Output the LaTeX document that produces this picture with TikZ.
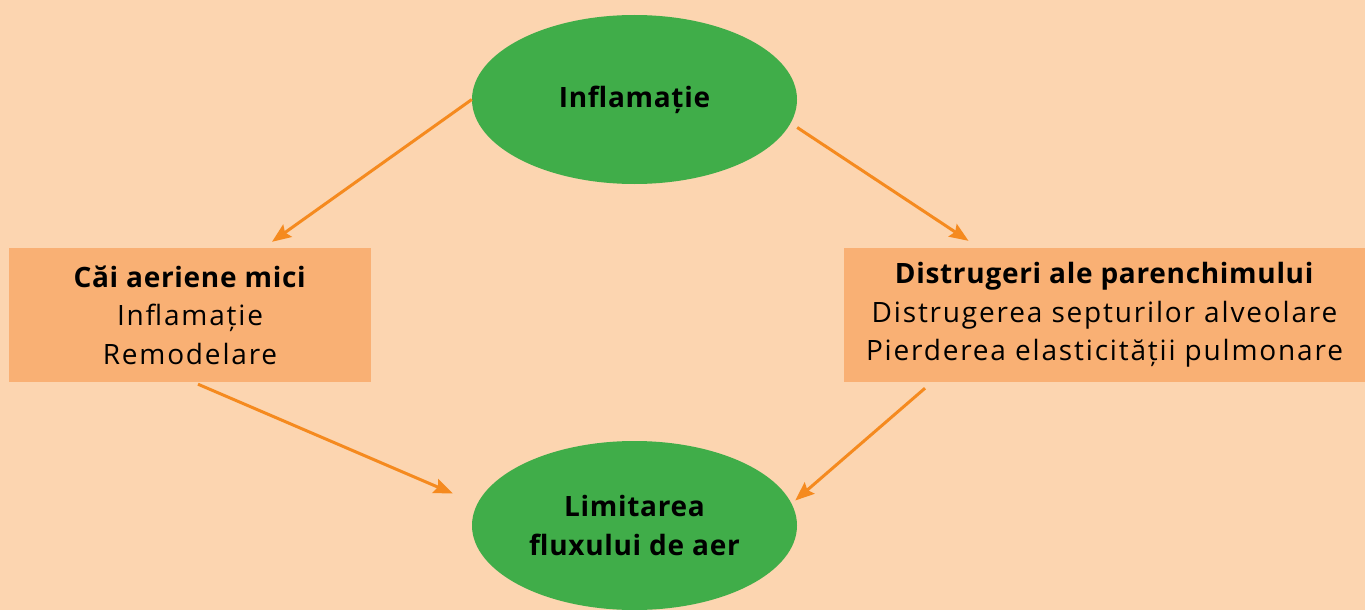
\documentclass[tikz,border=0pt]{standalone}
\usepackage{fontspec}
\setmainfont{Open Sans}[LetterSpace=6.5, BoldFeatures={LetterSpace=2.5}]
\usetikzlibrary{shapes.geometric,arrows.meta,calc}
\definecolor{bgpeach}{RGB}{252,213,176}
\definecolor{boxorange}{RGB}{249,176,116}
\definecolor{ellgreen}{RGB}{64,173,73}
\definecolor{arrorange}{RGB}{245,138,31}
\tikzset{
  ell/.style={ellipse, fill=ellgreen, minimum width=325pt, minimum height=169pt, inner sep=0pt, font=\bfseries\fontsize{28}{39}\selectfont, align=center},
  obox/.style={rectangle, fill=boxorange, inner sep=0pt, font=\fontsize{28}{38.5}\selectfont, align=center},
  conn/.style={draw=arrorange, line width=3pt, -{Stealth[length=19pt,width=15pt,inset=3pt]}}
}
\begin{document}
\begin{tikzpicture}[x=1pt,y=-1pt]
\fill[bgpeach] (0,0) rectangle (1365,610);
\useasboundingbox (0,0) rectangle (1365,610);
\node[ell] (top) at (634.5,99.5) {Inflamație};
\node[ell] (bot) at (634.5,525.5) {Limitarea\\fluxului de aer};
\node[obox, minimum width=362pt, minimum height=134pt] (lbox) at (190,315) {\textbf{Căi aeriene mici}\\Inflamație\\Remodelare};
\node[obox, minimum width=521pt, minimum height=134pt] (rbox) at (1104.5,315) {\textbf{Distrugeri ale parenchimului}\\Distrugerea septurilor alveolare\\Pierderea elasticității pulmonare};
\draw[conn] (top.west) -- ($(lbox.north)+(82,-6)$);
\draw[conn] ($(top.east)+(0,28)$) -- ($(rbox.north)+(-136,-7)$);
\draw[conn] ($(lbox.south)+(8,2)$) -- ($(bot.west)+(-19,-32)$);
\draw[conn] ($(rbox.south)+(-179.5,6)$) -- ($(bot.east)+(-2,-25)$);
\end{tikzpicture}
\end{document}
